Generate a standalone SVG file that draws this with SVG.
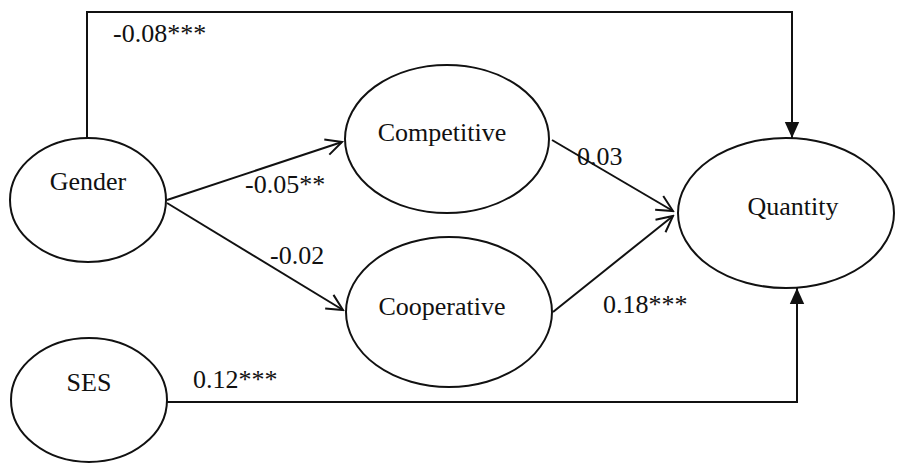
<svg xmlns="http://www.w3.org/2000/svg" width="898" height="463" viewBox="0 0 898 463">
<style>
.node ellipse{fill:none;stroke:#111;stroke-width:2}
text{font-family:"Liberation Serif","Times New Roman",serif;font-size:26px;fill:#111}
.t{text-anchor:middle}
.c{fill:none;stroke:#111;stroke-width:2}
</style>
<defs>
<marker id="open" viewBox="0 0 20 20" refX="18" refY="10" markerWidth="20" markerHeight="20" markerUnits="userSpaceOnUse" orient="auto">
<path d="M2,2 L18,10 L2,18" fill="none" stroke="#111" stroke-width="2"/>
</marker>
<marker id="solid" viewBox="0 0 20 20" refX="20" refY="10" markerWidth="16" markerHeight="16" markerUnits="userSpaceOnUse" orient="auto">
<path d="M0,1 L20,10 L0,19 Z" fill="#111"/>
</marker>
</defs>
<rect width="898" height="463" fill="#fff"/>
<g id="connectors">
<path class="c" d="M87,138 V12 H792 V138" marker-end="url(#solid)"/>
<path class="c" d="M167,200 L342,142" marker-end="url(#open)"/>
<path class="c" d="M167,203 L343,310" marker-end="url(#open)"/>
<path class="c" d="M552,140 L673,211" marker-end="url(#open)"/>
<path class="c" d="M553,312 L673,216" marker-end="url(#open)"/>
<path class="c" d="M167,402 H797 V288" marker-end="url(#solid)"/>
<text x="113" y="42">-0.08***</text>
<text x="245" y="193">-0.05**</text>
<text x="270" y="264">-0.02</text>
<text x="577" y="165">0.03</text>
<text x="603" y="313">0.18***</text>
<text x="193" y="388">0.12***</text>
</g>
<g id="gender" class="node"><ellipse cx="88" cy="200" rx="78" ry="62"/><text class="t" x="88" y="190">Gender</text></g>
<g id="competitive" class="node"><ellipse cx="447" cy="139" rx="102" ry="74"/><text class="t" x="442" y="141">Competitive</text></g>
<g id="cooperative" class="node"><ellipse cx="449" cy="312" rx="103" ry="75"/><text class="t" x="442" y="315">Cooperative</text></g>
<g id="quantity" class="node"><ellipse cx="786" cy="213" rx="108" ry="75"/><text class="t" x="793" y="215">Quantity</text></g>
<g id="ses" class="node"><ellipse cx="89" cy="400" rx="78" ry="62"/><text class="t" x="89" y="391">SES</text></g>
</svg>
